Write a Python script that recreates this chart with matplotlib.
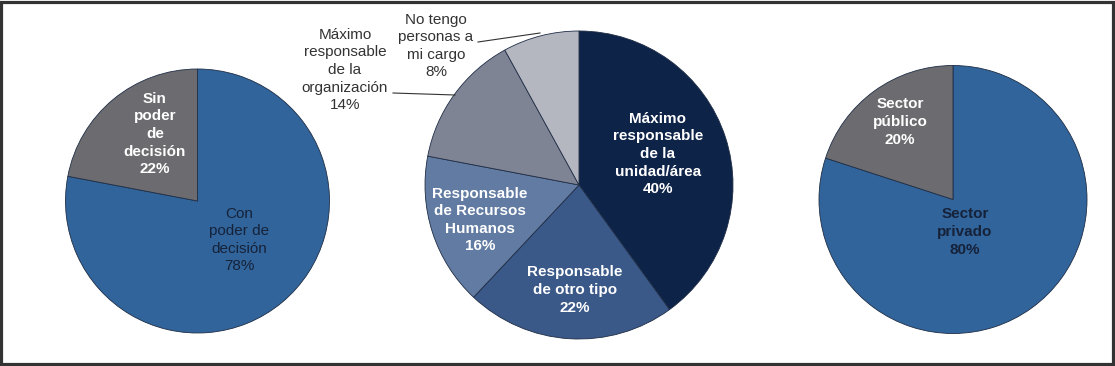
import matplotlib
matplotlib.use("Agg")
import matplotlib.pyplot as plt
from matplotlib.patches import Rectangle

plt.rcParams['font.family'] = ['Liberation Sans', 'DejaVu Sans']

# ---- data ----
left_labels = ["Con\npoder de\ndecisión", "Sin\npoder\nde\ndecisión"]
left_values = [78, 22]
left_colors = ["#30649a", "#6c6c70"]

mid_labels = ["Máximo\nresponsable\nde la\nunidad/área", "Responsable\nde otro tipo",
              "Responsable\nde Recursos\nHumanos", "Máximo\nresponsable\nde la\norganización",
              "No tengo\npersonas a\nmi cargo"]
mid_values = [40, 22, 16, 14, 8]
mid_colors = ["#0e2348", "#3a5888", "#627ba2", "#7f8495", "#b4b7c0"]

right_labels = ["Sector\nprivado", "Sector\npúblico"]
right_values = [80, 20]
right_colors = ["#30649a", "#6c6c70"]

W, H = 1115, 366
fig = plt.figure(figsize=(W / 100, H / 100), dpi=100)
ax = fig.add_axes([0, 0, 1, 1])


def Y(y):
    return H - y


def draw_pie(values, colors, cx, cy, r):
    ax.pie(values, colors=colors, startangle=90, counterclock=False,
           center=(cx, Y(cy)), radius=r,
           wedgeprops=dict(edgecolor="#1f2d45", linewidth=0.6))


draw_pie(left_values, left_colors, 197.5, 201, 132)
draw_pie(mid_values, mid_colors, 579, 185, 154)
draw_pie(right_values, right_colors, 953, 199.5, 134)

FS = 11


def label(x, y, text, color, bold=True):
    ax.text(x, Y(y), text, ha="center", va="center", color=color, fontsize=FS,
            fontweight="bold" if bold else "normal", linespacing=1.32)


dark = "#16223a"
# left pie
label(239, 240, f"{left_labels[0]}\n{left_values[0]}%", dark, bold=False)
label(155, 134, f"{left_labels[1]}\n{left_values[1]}%", "white")
# middle pie
label(658, 154, f"{mid_labels[0]}\n{mid_values[0]}%", "white")
label(575, 290, f"{mid_labels[1]}\n{mid_values[1]}%", "white")
label(480, 220, f"{mid_labels[2]}\n{mid_values[2]}%", "white")
label(345, 70, f"{mid_labels[3]}\n{mid_values[3]}%", "#333333", bold=False)
label(436, 46, f"{mid_labels[4]}\n{mid_values[4]}%", "#333333", bold=False)
# leader lines
ax.plot([393, 455], [Y(93), Y(95)], color="#333333", lw=0.8)
ax.plot([478, 540], [Y(42), Y(33)], color="#333333", lw=0.8)
# right pie
label(965, 232, f"{right_labels[0]}\n{right_values[0]}%", dark)
label(900, 122, f"{right_labels[1]}\n{right_values[1]}%", "white")

ax.set_xlim(0, W)
ax.set_ylim(0, H)
ax.set_aspect("auto")
ax.axis("off")

# frame
ax.add_patch(Rectangle((1.3, Y(363.5)), 1112, 361.5, fill=False,
                       edgecolor="#333333", linewidth=2.3, clip_on=False))

fig.savefig("out.png", dpi=100)
